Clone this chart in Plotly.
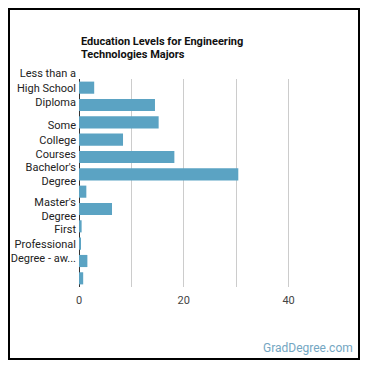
import plotly.graph_objects as go

categories = [
    "Less than a High School Diploma",
    "High School Diploma",
    "Post-secondary Certificate",
    "Some College Courses",
    "Associate's Degree",
    "Bachelor's Degree",
    "Post-baccalaureate Certificate",
    "Master's Degree",
    "Post-master's Certificate",
    "First Professional Degree - awarded for completion of a program",
    "Doctorate Degree",
    "Post-doctoral Training",
]
values = [2.9, 14.5, 15.2, 8.4, 18.2, 30.4, 1.4, 6.3, 0.5, 0.3, 1.6, 0.8]

label_cats = [categories[0], categories[3], categories[5], categories[7], categories[9]]
label_texts = [
    "Less than a<br>High School<br>Diploma",
    "Some<br>College<br>Courses",
    "Bachelor's<br>Degree",
    "Master's<br>Degree",
    "First<br>Professional<br>Degree - aw...",
]
x_tickvals = [0, 10, 20, 30, 40]
x_ticktext = ["0", "", "20", "", "40"]

title_lines = ["Education Levels for Engineering", "Technologies Majors"]
watermark = "GradDegree.com"

W, H = 370, 370
L, R, T, B = 79, 29, 79, 83
pw, ph = W - L - R, H - T - B

def px(x):
    return (x - L) / pw

def py(y):
    return (H - B - y) / ph

fig = go.Figure(go.Bar(
    x=values, y=categories, orientation="h",
    marker=dict(color="#5ba3c3", line=dict(width=0)),
    hoverinfo="x+y",
))

fig.update_layout(
    width=W, height=H,
    margin=dict(l=L, r=R, t=T, b=B, pad=0),
    paper_bgcolor="white", plot_bgcolor="white",
    bargap=0.3,
    showlegend=False,
    font=dict(family="Roboto", size=11, color="#222"),
    xaxis=dict(
        range=[0, 50], tickvals=x_tickvals, ticktext=x_ticktext,
        showgrid=True, gridcolor="#cccccc", gridwidth=1,
        zeroline=True, zerolinecolor="#333333", zerolinewidth=1,
        showline=False, ticks="", tickfont=dict(size=11, color="#444"),
        ticklabelstandoff=5,
        fixedrange=True,
    ),
    yaxis=dict(
        type="category", categoryorder="array", categoryarray=categories,
        autorange="reversed",
        tickvals=label_cats, ticktext=label_texts,
        showgrid=False, zeroline=False, showline=False, ticks="",
        tickfont=dict(size=11, color="#222"),
        ticklabelstandoff=2,
        fixedrange=True,
    ),
    shapes=[dict(
        type="rect", xref="paper", yref="paper",
        x0=px(9), x1=px(359), y0=py(359), y1=py(9),
        line=dict(color="black", width=2), fillcolor="rgba(0,0,0,0)",
    )],
    annotations=[
        dict(text="<b>%s</b>" % title_lines[0], xref="paper", yref="paper",
             x=px(79), y=py(42), xanchor="left", yanchor="middle",
             showarrow=False, font=dict(size=11, color="#111")),
        dict(text="<b>%s</b>" % title_lines[1], xref="paper", yref="paper",
             x=px(79), y=py(55), xanchor="left", yanchor="middle",
             showarrow=False, font=dict(size=11, color="#111")),
        dict(text=watermark, xref="paper", yref="paper",
             x=px(355), y=py(348), xanchor="right", yanchor="middle",
             showarrow=False, font=dict(size=12, color="#74a6c2")),
    ],
)

fig.write_html("out.html")
